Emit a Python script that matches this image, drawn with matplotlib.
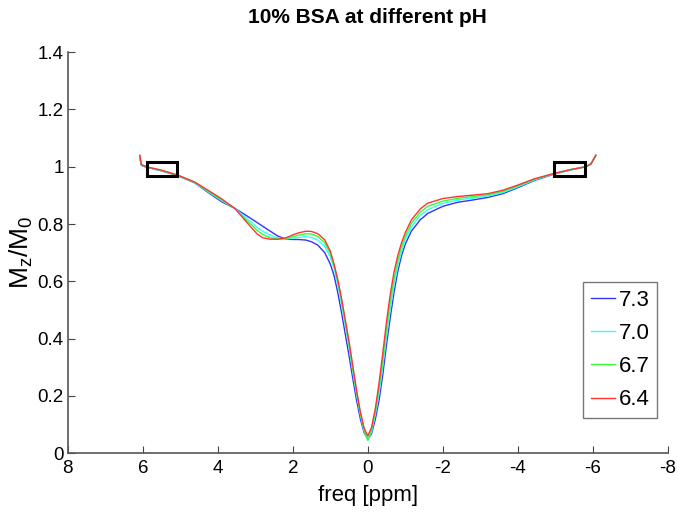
import matplotlib
matplotlib.use("Agg")
import matplotlib.pyplot as plt
from matplotlib.patches import Rectangle
from matplotlib import font_manager

# Saturation offsets (ppm) shared by every pH series
freq_ppm = [6.08, 6.04, 5.9, 5.5, 5.07, 4.62, 4.2, 3.9, 3.55, 3.3, 3.1, 2.95, 2.8,
            2.6, 2.4, 2.2, 2.0, 1.85, 1.65, 1.5, 1.33, 1.15, 1.0, 0.9, 0.8, 0.7,
            0.6, 0.5, 0.4, 0.3, 0.2, 0.1, 0.0, -0.1, -0.2, -0.3, -0.4, -0.5, -0.6,
            -0.7, -0.8, -0.9, -1.0, -1.16, -1.4, -1.6, -2.0, -2.4, -2.8, -3.2,
            -3.6, -4.0, -4.44, -4.98, -5.4, -5.81, -5.95, -6.08]

mz_ph73 = [1.035, 1.005, 0.998, 0.986, 0.969, 0.944, 0.905, 0.878, 0.855, 0.835,
           0.818, 0.805, 0.792, 0.775, 0.758, 0.748, 0.746, 0.746, 0.744, 0.738,
           0.726, 0.700, 0.660, 0.620, 0.560, 0.490, 0.415, 0.340, 0.260, 0.185,
           0.120, 0.072, 0.048, 0.068, 0.118, 0.185, 0.275, 0.380, 0.475, 0.562,
           0.635, 0.690, 0.730, 0.775, 0.815, 0.837, 0.862, 0.876, 0.884, 0.893,
           0.906, 0.927, 0.952, 0.975, 0.989, 1.000, 1.010, 1.040]

mz_ph70 = [1.038, 1.006, 0.999, 0.987, 0.970, 0.945, 0.908, 0.882, 0.855, 0.828,
           0.806, 0.788, 0.775, 0.761, 0.751, 0.748, 0.751, 0.753, 0.756, 0.753,
           0.744, 0.722, 0.685, 0.645, 0.590, 0.520, 0.445, 0.370, 0.285, 0.205,
           0.135, 0.078, 0.045, 0.075, 0.135, 0.210, 0.305, 0.410, 0.505, 0.588,
           0.655, 0.705, 0.745, 0.790, 0.830, 0.850, 0.872, 0.884, 0.891, 0.898,
           0.910, 0.930, 0.954, 0.976, 0.989, 1.000, 1.010, 1.040]

mz_ph67 = [1.039, 1.007, 0.999, 0.987, 0.970, 0.946, 0.910, 0.885, 0.855, 0.822,
           0.797, 0.777, 0.763, 0.752, 0.748, 0.749, 0.756, 0.761, 0.766, 0.765,
           0.756, 0.735, 0.697, 0.655, 0.600, 0.532, 0.457, 0.380, 0.295, 0.212,
           0.140, 0.082, 0.045, 0.082, 0.145, 0.228, 0.325, 0.435, 0.530, 0.610,
           0.672, 0.720, 0.757, 0.802, 0.842, 0.862, 0.880, 0.890, 0.896, 0.902,
           0.914, 0.933, 0.956, 0.977, 0.990, 1.000, 1.010, 1.040]

mz_ph64 = [1.040, 1.008, 1.000, 0.988, 0.971, 0.947, 0.913, 0.888, 0.855, 0.817,
           0.787, 0.765, 0.752, 0.747, 0.747, 0.751, 0.762, 0.769, 0.775, 0.774,
           0.766, 0.745, 0.705, 0.660, 0.605, 0.540, 0.465, 0.390, 0.305, 0.220,
           0.145, 0.088, 0.060, 0.090, 0.155, 0.245, 0.350, 0.460, 0.555, 0.633,
           0.690, 0.735, 0.770, 0.814, 0.853, 0.873, 0.889, 0.896, 0.901, 0.906,
           0.918, 0.936, 0.958, 0.977, 0.990, 1.000, 1.010, 1.040]

ph_labels = ["7.3", "7.0", "6.7", "6.4"]
line_colors = ["#3333ff", "#33ffff", "#33ff33", "#ff3333"]

# Reference-region boxes: (left ppm, bottom, width ppm, height)
box_left = (5.09, 0.967, 0.80, 0.051)
box_right = (-5.79, 0.968, 0.83, 0.050)

x_ticks = [8, 6, 4, 2, 0, -2, -4, -6, -8]
y_ticks = [0, 0.2, 0.4, 0.6, 0.8, 1.0, 1.2, 1.4]
y_tick_labels = ["0", "0.2", "0.4", "0.6", "0.8", "1", "1.2", "1.4"]

available = {f.name for f in font_manager.fontManager.ttflist}
family = "Liberation Sans Narrow" if "Liberation Sans Narrow" in available else "Liberation Sans"
plt.rcParams["font.family"] = [family, "DejaVu Sans"]
plt.rcParams["mathtext.fontset"] = "custom"
plt.rcParams["mathtext.rm"] = family
plt.rcParams["mathtext.it"] = family

fig = plt.figure(figsize=(6.78, 5.12), dpi=100)
ax = fig.add_axes([0.100, 0.115, 0.885, 0.783])

series = [mz_ph73, mz_ph70, mz_ph67, mz_ph64]
for values, label, color in zip(series, ph_labels, line_colors):
    ax.plot(freq_ppm, values, color=color, lw=1.0, label=label)

for (x0, y0, w, h) in (box_left, box_right):
    ax.add_patch(Rectangle((x0, y0), w, h, fill=False, edgecolor="black", lw=2.2, zorder=5))

ax.set_xlim(8, -8)
ax.set_ylim(0, 1.4)
ax.set_xticks(x_ticks)
ax.set_xticklabels([str(t) for t in x_ticks])
ax.set_yticks(y_ticks)
ax.set_yticklabels(y_tick_labels)

for side in ("top", "right"):
    ax.spines[side].set_visible(False)
for side in ("left", "bottom"):
    ax.spines[side].set_color("#555555")
    ax.spines[side].set_linewidth(1.2)
ax.tick_params(direction="in", length=5, width=0.8, color="#444444",
               labelsize=13.5)
ax.tick_params(axis="x", pad=5)
ax.tick_params(axis="y", pad=3)

ax.set_title("10% BSA at different pH", fontsize=15, fontweight="bold", pad=21)
ax.set_xlabel("freq [ppm]", fontsize=16, labelpad=6)
ax.set_ylabel(r"M$_\mathregular{z}$/M$_\mathregular{0}$", fontsize=19, labelpad=2)

leg = ax.legend(loc="lower right", bbox_to_anchor=(0.982, 0.087), fontsize=16,
                frameon=True, fancybox=False, handlelength=1.1, handletextpad=0.15,
                borderpad=0.35, labelspacing=0.55, borderaxespad=0.0)
leg.get_frame().set_edgecolor("#555555")
leg.get_frame().set_linewidth(1.0)

fig.savefig("out.png", dpi=100)
